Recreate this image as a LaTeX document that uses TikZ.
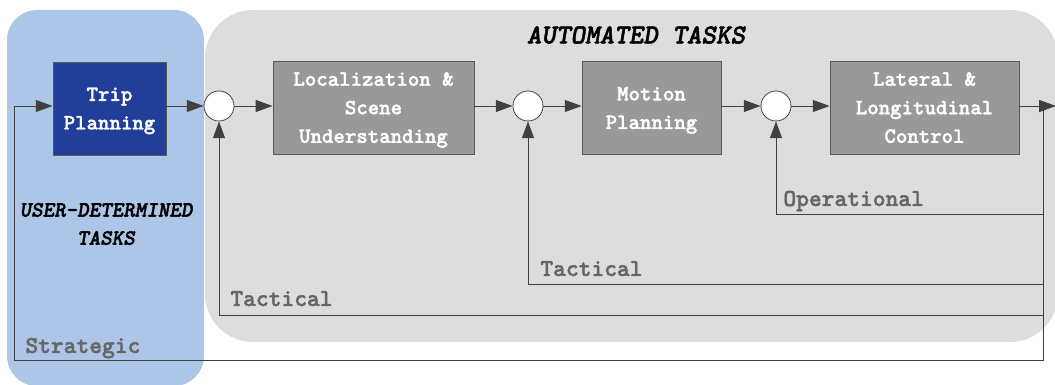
\documentclass[tikz,border=0pt]{standalone}
\usepackage{fontspec}
\setmonofont{lmmonolt10-bold.otf}[BoldFont=lmmonolt10-bold.otf,BoldFeatures={FakeBold=1.6},ItalicFont=lmmonolt10-boldoblique.otf,BoldItalicFont=lmmonolt10-boldoblique.otf,BoldItalicFeatures={FakeBold=1.6}]
\usetikzlibrary{arrows.meta}
\definecolor{userbg}{RGB}{173,198,232}
\definecolor{autobg}{RGB}{221,221,221}
\definecolor{tripblue}{RGB}{33,62,153}
\definecolor{blkgray}{RGB}{153,153,153}
\definecolor{lblgray}{RGB}{102,102,102}
\begin{document}
\begin{tikzpicture}
	[x=0.025cm,y=-0.025cm,
	blk/.style={rectangle,draw=black!65,fill=blkgray,text=white,align=center,inner sep=0pt,text depth=0pt,minimum height=2.325cm,font=\fontsize{15.5}{20.3}\selectfont\ttfamily\bfseries},
	sum/.style={circle,draw=black!70,fill=white,inner sep=0pt,minimum size=0.75cm},
	lbl/.style={anchor=base west,inner sep=0pt,text=lblgray,font=\fontsize{17.3}{20}\selectfont\ttfamily\bfseries},
	title/.style={align=center,font=\fontsize{19.7}{24}\selectfont\ttfamily\bfseries\itshape},
	>={Triangle[length=0.42cm,width=0.3cm]},line width=0.6pt,draw=black!75]
	\useasboundingbox (0,0) rectangle (1055,385);
	\begin{scope}
		\clip (0,0) rectangle (1055,385);
		\fill[userbg,rounded corners=0.75cm] (7,10) rectangle (204,386);
		\fill[autobg,rounded corners=1.2cm] (205,10) rectangle (1058,342);
	\end{scope}
	\node[title,name=autotitle] at (636,35) {AUTOMATED TASKS};
	\node[title,name=usertitle,font=\fontsize{15.6}{20}\selectfont\ttfamily\bfseries\itshape] at (106,224) {USER-DETERMINED\\TASKS};
	\node[blk,name=trip,fill=tripblue,minimum width=2.825cm] at (109.5,108.5) {Trip\\Planning};
	\node[sum,name=s1] at (219,106) {};
	\node[blk,name=loc,minimum width=5.025cm] at (373.5,107.5) {Localization \&\\Scene\\Understanding};
	\node[sum,name=s2] at (528,106) {};
	\node[blk,name=motion,minimum width=3.475cm] at (651.5,108) {Motion\\Planning};
	\node[sum,name=s3] at (776,106) {};
	\node[blk,name=lat,minimum width=4.725cm] at (924.5,107.5) {Lateral \&\\Longitudinal\\Control};
	\coordinate (fb) at (1043,106);
	\coordinate (out) at (1056,106);
	\coordinate (oper) at (776,214);
	\coordinate (tac2) at (528,284);
	\coordinate (tac1) at (219,315);
	\coordinate (strat) at (14,360);
	\draw[->](trip.east|-s1)--(s1);
	\draw[->](s1)--(loc.west|-s1);
	\draw[->](loc.east|-s2)--(s2);
	\draw[->](s2)--(motion.west|-s2);
	\draw[->](motion.east|-s3)--(s3);
	\draw[->](s3)--(lat.west|-s3);
	\draw[->](lat.east|-out)--(out);
	\draw[->](fb)|-(oper)--(s3);
	\draw[->](fb)|-(tac2)--(s2);
	\draw[->](fb)|-(tac1)--(s1);
	\draw[->](fb)|-(strat)|-(trip.west|-s1);
	\node[lbl,name=operlbl] at (783,206) {Operational};
	\node[lbl,name=tac2lbl] at (540,276) {Tactical};
	\node[lbl,name=tac1lbl] at (230,306) {Tactical};
	\node[lbl,name=stratlbl] at (25,353) {Strategic};
\end{tikzpicture}
\end{document}
